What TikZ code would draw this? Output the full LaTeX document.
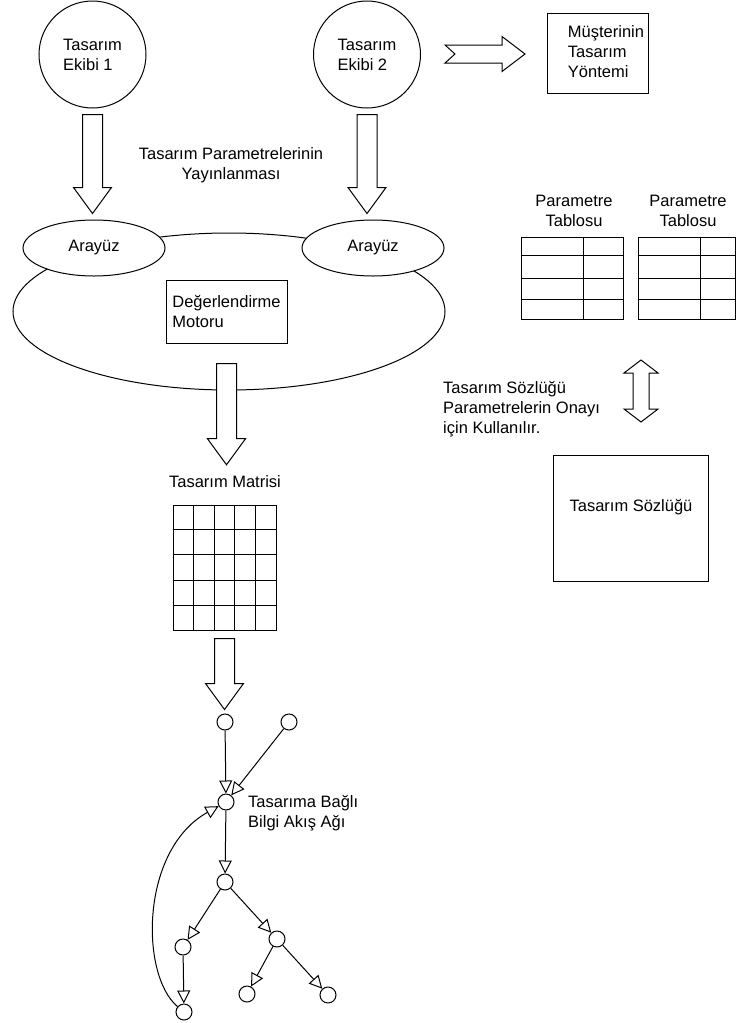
\documentclass[tikz,border=0pt]{standalone}
\usepackage{fontspec}
\setmainfont{Liberation Sans}
\usetikzlibrary{shapes.geometric,arrows.meta,calc}

\tikzset{
  cizgi/.style={line width=1pt},
  kutu/.style={draw,cizgi,fill=white,inner sep=0pt},
  daire/.style={circle,draw,cizgi,fill=white,minimum size=107pt,inner sep=0pt,align=left},
  elips/.style={ellipse,draw,cizgi,fill=white,inner sep=0pt},
  yazi/.style={inner sep=0pt,align=left},
  dugum/.style={circle,draw,cizgi,fill=white,minimum size=16pt,inner sep=0pt},
  akis/.style={cizgi,-{Triangle[open,length=13pt,width=13pt]}},
  blok/.style={draw,cizgi,fill=white},
}

% vertical block arrow: #1 start, #2 tip
\newcommand{\blokok}[2]{%
  \path[blok] let \p1=#1, \p2=#2 in
    (\x1-10,\y1) -- (\x1+10,\y1) -- (\x1+10,\y2+26) -- (\x1+19,\y2+26)
    -- (\x1,\y2) -- (\x1-19,\y2+26) -- (\x1-10,\y2+26) -- cycle;}

\begin{document}
\begin{tikzpicture}[x=1pt,y=1pt,font=\fontsize{16.5}{20}\selectfont]
  % Page
  \fill[white] (0,0) rectangle (736,-1023);
  \useasboundingbox (0,0) rectangle (736,-1023);

  % Design teams
  \node[daire] (ekip1) at (92.5,-54.5) {Tasarım\\Ekibi 1};
  \node[daire] (ekip2) at (367,-54.5) {Tasarım\\Ekibi 2};

  % Customer method
  \node[kutu,minimum width=101pt,minimum height=80pt] (musteri) at (597.5,-53) {};
  \node[yazi] (musteriyazi) at (606,-52) {Müşterinin\\Tasarım\\Yöntemi};
  \path[blok] (445,-45) -- (502,-45) -- (502,-36.5) -- (525,-54) -- (502,-71.5)
    -- (502,-63) -- (445,-63) -- (455,-54) -- cycle;

  \node[yazi,align=center] (yayinyazi) at (231,-165.5) {Tasarım Parametrelerinin\\Yayınlanması};

  % Evaluation engine with interfaces
  \node[elips,minimum width=432pt,minimum height=157pt] (motorhalka) at (229,-311.5) {};
  \node[elips,minimum width=142pt,minimum height=56pt] (arayuz1) at (94,-248) {Arayüz};
  \node[elips,minimum width=142pt,minimum height=56pt] (arayuz2) at (373,-248) {Arayüz};
  \node[kutu,minimum width=121pt,minimum height=63pt,align=left] (motor) at (226.5,-311.5) {Değerlendirme\\Motoru};

  \blokok{([yshift=-6pt]ekip1.south)}{([yshift=6pt]arayuz1.north)}
  \blokok{([yshift=-6pt]ekip2.south)}{([yshift=6pt]arayuz2.north)}

  % Design matrix
  \node[yazi] (matrisyazi) at (225,-482) {Tasarım Matrisi};
  \blokok{([yshift=-20pt]motor.south)}{([yshift=11pt]matrisyazi.north)}
  \node[kutu,minimum width=103pt,minimum height=125pt] (matris) at (224.5,-567.5) {};
  \foreach \i in {1,...,4} {
    \draw[cizgi] ($(matris.south west)!\i/5!(matris.south east)$) -- ($(matris.north west)!\i/5!(matris.north east)$);
    \draw[cizgi] ($(matris.south west)!\i/5!(matris.north west)$) -- ($(matris.south east)!\i/5!(matris.north east)$);
  }

  % Parameter tables
  \node[yazi,align=center] (baslik1) at (574,-211) {Parametre\\Tablosu};
  \node[yazi,align=center] (baslik2) at (688,-211) {Parametre\\Tablosu};
  \node[kutu,minimum width=102pt,minimum height=82pt] (tablo1) at (572,-278) {};
  \node[kutu,minimum width=97pt,minimum height=82pt] (tablo2) at (686.5,-278) {};
  \foreach \t/\f in {tablo1/0.61,tablo2/0.64} {
    \draw[cizgi] ($(\t.north west)!\f!(\t.north east)$) -- ($(\t.south west)!\f!(\t.south east)$);
    \foreach \r in {0.23,0.5,0.76}
      \draw[cizgi] ($(\t.north west)!\r!(\t.south west)$) -- ($(\t.north east)!\r!(\t.south east)$);
  }

  % Design dictionary
  \path[blok] (641,-360) -- (658,-373) -- (649,-373) -- (649,-409) -- (658,-409) -- (641,-422)
    -- (624,-409) -- (633,-409) -- (633,-373) -- (624,-373) -- cycle;
  \node[yazi,anchor=west] (onayyazi) at (443,-409) {Tasarım Sözlüğü\\Parametrelerin Onayı\\için Kullanılır.};
  \node[kutu,minimum width=155pt,minimum height=126pt] (sozluk) at (630.5,-518) {};
  \node[yazi] (sozlukyazi) at (631,-507) {Tasarım Sözlüğü};

  % Information flow network
  \node[dugum] (a1) at (225,-722) {};
  \node[dugum] (a2) at (289,-722) {};
  \node[dugum] (a3) at (226,-802) {};
  \node[dugum] (a4) at (225,-882) {};
  \node[dugum] (a5) at (183,-947) {};
  \node[dugum] (a6) at (277,-939) {};
  \node[dugum] (a7) at (184,-1012) {};
  \node[dugum] (a8) at (247,-994) {};
  \node[dugum] (a9) at (328,-995) {};
  \node[yazi,anchor=west] (agyazi) at (248,-813) {Tasarıma Bağlı\\Bilgi Akış Ağı};

  \blokok{([yshift=-8pt]matris.south)}{([yshift=4pt]a1.north)}

  \foreach \u/\v in {a1/a3,a2/a3,a3/a4,a4/a5,a4/a6,a5/a7,a6/a8,a6/a9}
    \draw[akis] (\u) -- (\v);
  \draw[akis] (a7) .. controls (140,-975) and (140,-850) .. (a3);
\end{tikzpicture}
\end{document}
